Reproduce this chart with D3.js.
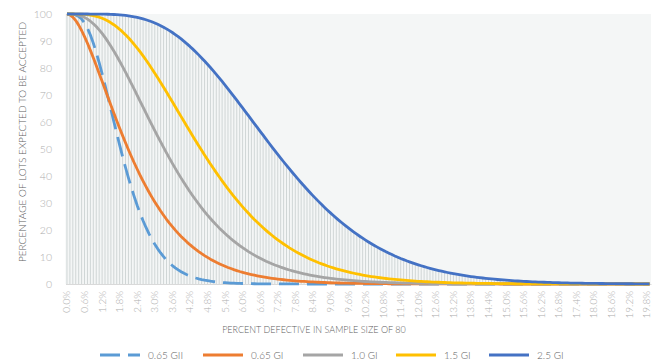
<!DOCTYPE html>
<html><head><meta charset="utf-8">
<script src="https://cdn.jsdelivr.net/npm/d3@7"></script>
<style>body{margin:0;background:#fff}svg{display:block;font-family:Lato,"Open Sans",sans-serif}text{font-weight:300}</style>
</head><body><svg id="c" width="657" height="363"></svg>
<script>
// Percent defective categories: 0.0% .. 19.9% in 0.1% steps
const defectPct = d3.range(200).map(i => i / 10);
const tickLabels = ["0.0%","0.6%","1.2%","1.8%","2.4%","3.0%","3.6%","4.2%","4.8%","5.4%","6.0%","6.6%","7.2%","7.8%","8.4%","9.0%","9.6%","10.2%","10.8%","11.4%","12.0%","12.6%","13.2%","13.8%","14.4%","15.0%","15.6%","16.2%","16.8%","17.4%","18.0%","18.6%","19.2%","19.8%"];
const seriesNames = ["0.65 GII","0.65 GI","1.0 GI","1.5 GI","2.5 GI"];

const gii065 = [100,99.99,99.92,99.67,99.11,98.13,96.67,94.69,92.20,89.22,
85.80,82.02,77.95,73.66,69.23,64.72,60.22,55.76,51.41,47.19,
43.15,39.31,35.67,32.27,29.09,26.15,23.43,20.94,18.66,16.59,
14.71,13.02,11.49,10.13,8.90,7.81,6.84,5.98,5.22,4.55,
3.95,3.43,2.98,2.58,2.23,1.92,1.66,1.43,1.23,1.05,
0.90,0.78,0.66,0.57,0.48,0.41,0.35,0.30,0.26,0.22,
0.18,0.16,0.13,0.11,0.09,0.08,0.07,0.06,0.05,0.04,
0.03,0.03,0.02,0.02,0.02,0.01,0.01,0.01,0.01,0.01,
0.01,0,0,0,0,0,0,0,0,0,
0,0,0,0,0,0,0,0,0,0,
0,0,0,0,0,0,0,0,0,0,
0,0,0,0,0,0,0,0,0,0,
0,0,0,0,0,0,0,0,0,0,
0,0,0,0,0,0,0,0,0,0,
0,0,0,0,0,0,0,0,0,0,
0,0,0,0,0,0,0,0,0,0,
0,0,0,0,0,0,0,0,0,0,
0,0,0,0,0,0,0,0,0,0,
0,0,0,0,0,0,0,0,0,0,
0,0,0,0,0,0,0,0,0,0];

const gi065 = [100,99.70,98.86,97.56,95.88,93.89,91.63,89.16,86.53,83.77,
80.92,78.00,75.06,72.10,69.14,66.21,63.31,60.47,57.67,54.95,
52.30,49.72,47.23,44.82,42.50,40.26,38.11,36.05,34.07,32.18,
30.38,28.66,27.02,25.46,23.97,22.56,21.23,19.96,18.75,17.62,
16.54,15.52,14.56,13.65,12.80,11.99,11.23,10.51,9.84,9.20,
8.61,8.04,7.52,7.02,6.56,6.12,5.72,5.33,4.98,4.64,
4.33,4.03,3.76,3.50,3.26,3.03,2.82,2.63,2.44,2.27,
2.11,1.97,1.83,1.70,1.58,1.46,1.36,1.26,1.17,1.09,
1.01,0.94,0.87,0.80,0.75,0.69,0.64,0.59,0.55,0.51,
0.47,0.44,0.40,0.37,0.35,0.32,0.30,0.27,0.25,0.23,
0.22,0.20,0.18,0.17,0.16,0.15,0.13,0.12,0.11,0.11,
0.10,0.09,0.08,0.08,0.07,0.06,0.06,0.06,0.05,0.05,
0.04,0.04,0.04,0.03,0.03,0.03,0.03,0.02,0.02,0.02,
0.02,0.02,0.02,0.01,0.01,0.01,0.01,0.01,0.01,0.01,
0.01,0.01,0.01,0.01,0.01,0.01,0.01,0.01,0,0,
0,0,0,0,0,0,0,0,0,0,
0,0,0,0,0,0,0,0,0,0,
0,0,0,0,0,0,0,0,0,0,
0,0,0,0,0,0,0,0,0,0,
0,0,0,0,0,0,0,0,0,0];

const gi10 = [100,99.99,99.94,99.81,99.58,99.23,98.74,98.11,97.33,96.41,
95.35,94.14,92.80,91.34,89.76,88.08,86.30,84.44,82.50,80.50,
78.44,76.34,74.20,72.04,69.86,67.67,65.48,63.29,61.11,58.95,
56.81,54.70,52.62,50.58,48.57,46.61,44.69,42.81,40.98,39.21,
37.48,35.80,34.18,32.61,31.09,29.62,28.21,26.85,25.53,24.27,
23.06,21.90,20.78,19.72,18.69,17.71,16.78,15.89,15.03,14.22,
13.44,12.71,12.00,11.33,10.70,10.09,9.52,8.98,8.46,7.97,
7.50,7.06,6.65,6.25,5.88,5.53,5.19,4.88,4.58,4.30,
4.04,3.79,3.55,3.33,3.12,2.93,2.74,2.57,2.40,2.25,
2.11,1.97,1.84,1.72,1.61,1.50,1.41,1.31,1.23,1.14,
1.07,1.00,0.93,0.87,0.81,0.75,0.70,0.65,0.61,0.57,
0.53,0.49,0.46,0.43,0.40,0.37,0.34,0.32,0.30,0.28,
0.26,0.24,0.22,0.20,0.19,0.18,0.16,0.15,0.14,0.13,
0.12,0.11,0.10,0.10,0.09,0.08,0.08,0.07,0.07,0.06,
0.06,0.05,0.05,0.04,0.04,0.04,0.04,0.03,0.03,0.03,
0.03,0.02,0.02,0.02,0.02,0.02,0.02,0.01,0.01,0.01,
0.01,0.01,0.01,0.01,0.01,0.01,0.01,0.01,0.01,0.01,
0.01,0.01,0.01,0,0,0,0,0,0,0,
0,0,0,0,0,0,0,0,0,0,
0,0,0,0,0,0,0,0,0,0];

const gi15 = [100,100,100,99.99,99.97,99.93,99.86,99.75,99.60,99.40,
99.13,98.81,98.41,97.93,97.38,96.74,96.02,95.22,94.33,93.37,
92.32,91.19,89.98,88.70,87.36,85.94,84.47,82.94,81.36,79.74,
78.07,76.36,74.63,72.86,71.08,69.28,67.47,65.64,63.81,61.99,
60.16,58.35,56.54,54.76,52.98,51.23,49.50,47.79,46.11,44.47,
42.84,41.26,39.70,38.18,36.70,35.25,33.84,32.47,31.13,29.84,
28.58,27.36,26.18,25.03,23.92,22.86,21.82,20.83,19.87,18.94,
18.05,17.19,16.37,15.58,14.82,14.09,13.39,12.73,12.09,11.47,
10.89,10.33,9.79,9.28,8.79,8.33,7.88,7.46,7.06,6.67,
6.31,5.96,5.63,5.32,5.02,4.74,4.47,4.22,3.98,3.75,
3.53,3.33,3.13,2.95,2.77,2.61,2.45,2.31,2.17,2.04,
1.92,1.80,1.69,1.59,1.49,1.40,1.31,1.23,1.15,1.08,
1.01,0.95,0.89,0.83,0.78,0.73,0.68,0.64,0.59,0.56,
0.52,0.48,0.45,0.42,0.39,0.37,0.34,0.32,0.30,0.28,
0.26,0.24,0.23,0.21,0.20,0.18,0.17,0.16,0.15,0.14,
0.13,0.12,0.11,0.10,0.10,0.09,0.08,0.08,0.07,0.07,
0.06,0.06,0.05,0.05,0.05,0.04,0.04,0.04,0.03,0.03,
0.03,0.03,0.02,0.02,0.02,0.02,0.02,0.02,0.02,0.01,
0.01,0.01,0.01,0.01,0.01,0.01,0.01,0.01,0.01,0.01,
0.01,0.01,0.01,0,0,0,0,0,0,0];

const gi25 = [100,100,100,100,100,100,100,100,99.99,99.99,
99.98,99.97,99.96,99.94,99.91,99.87,99.82,99.75,99.67,99.57,
99.46,99.31,99.15,98.96,98.73,98.48,98.19,97.87,97.51,97.11,
96.67,96.19,95.67,95.10,94.49,93.83,93.15,92.39,91.59,90.76,
89.88,88.96,88.00,86.99,85.95,84.86,83.74,82.59,81.39,80.18,
78.92,77.64,76.34,75.01,73.66,72.29,70.90,69.50,68.08,66.65,
65.22,63.77,62.33,60.88,59.43,57.98,56.53,55.11,53.66,52.23,
50.82,49.41,48.02,46.65,45.28,43.94,42.61,41.30,40.02,38.75,
37.50,36.28,35.08,33.90,32.74,31.61,30.51,29.43,28.37,27.35,
26.34,25.36,24.41,23.48,22.58,21.70,20.85,20.02,19.22,18.45,
17.69,16.96,16.26,15.57,14.91,14.28,13.66,13.07,12.50,11.94,
11.41,10.90,10.40,9.93,9.47,9.04,8.61,8.21,7.82,7.45,
7.09,6.75,6.42,6.11,5.81,5.52,5.24,4.98,4.73,4.49,
4.26,4.04,3.83,3.63,3.44,3.26,3.09,2.93,2.77,2.62,
2.48,2.35,2.22,2.10,1.98,1.87,1.77,1.67,1.58,1.49,
1.40,1.32,1.25,1.18,1.11,1.04,0.98,0.93,0.87,0.82,
0.77,0.73,0.68,0.64,0.60,0.57,0.53,0.50,0.47,0.44,
0.41,0.39,0.36,0.34,0.32,0.30,0.28,0.26,0.25,0.23,
0.22,0.20,0.19,0.18,0.17,0.15,0.14,0.14,0.13,0.12,
0.11,0.10,0.10,0.09,0.08,0.08,0.07,0.07,0.06,0.06];

const seriesValues = [gii065, gi065, gi10, gi15, gi25];
const seriesColors = ["#5B9BD5","#ED7D31","#A5A5A5","#FFC000","#4472C4"];
const seriesDash = ["20,8", null, null, null, null];

const svg = d3.select("#c");
const P = {l: 65.5, r: 651, t: 14, b: 284};

const x = d3.scaleBand().domain(d3.range(defectPct.length)).range([P.l, P.r]).padding(0);
const cx = i => x(i) + x.bandwidth() / 2;
const y = d3.scaleLinear().domain([0, 100]).range([P.b, P.t]);

svg.append("rect").attr("x", 0).attr("y", 0).attr("width", 657).attr("height", 363).attr("fill", "#fff");
svg.append("rect").attr("x", P.l).attr("y", P.t).attr("width", P.r - P.l).attr("height", P.b - P.t).attr("fill", "#f4f6f6");

// drop lines (from axis to highest series at each category)
const maxAt = defectPct.map((_, i) => d3.max(seriesValues, s => s[i]));
svg.append("g").selectAll("line").data(maxAt).join("line")
  .attr("x1", (d, i) => cx(i)).attr("x2", (d, i) => cx(i))
  .attr("y1", y(0)).attr("y2", d => y(d))
  .attr("stroke", "#d0d6d6").attr("stroke-width", 1);

// x axis
const xAxis = d3.axisBottom(x)
  .tickValues(d3.range(0, defectPct.length, 6))
  .tickFormat(i => tickLabels[i / 6])
  .tickSize(0);
const gx = svg.append("g").attr("transform", `translate(0,${P.b})`).call(xAxis);
gx.select(".domain").attr("stroke", "#d9d9d9").attr("stroke-width", 1);
gx.selectAll("text")
  .attr("transform", "rotate(-90)")
  .attr("x", -7).attr("y", 0).attr("dy", "0.35em")
  .style("text-anchor", "end")
  .attr("fill", "#adadad").style("font-size", "10px").style("font-family", "Lato").style("font-weight", 300);

// y axis
const yAxis = d3.axisLeft(y).tickValues(d3.range(0, 101, 10)).tickSize(0).tickPadding(13.5);
const gy = svg.append("g").attr("transform", `translate(${P.l},0)`).call(yAxis);
gy.select(".domain").remove();
gy.selectAll("text").attr("fill", "#adadad").style("font-size", "10.5px").style("font-family", "Lato").style("font-weight", 300);

// series lines
const line = d3.line().x((d, i) => cx(i)).y(d => y(d));
seriesValues.forEach((s, k) => {
  svg.append("path").datum(s)
    .attr("d", line)
    .attr("fill", "none")
    .attr("stroke", seriesColors[k])
    .attr("stroke-width", 2.8)
    .attr("stroke-linejoin", "round")
    .attr("stroke-dasharray", seriesDash[k]);
});

// axis titles
svg.append("text")
  .attr("transform", "translate(22,142) rotate(-90)")
  .attr("text-anchor", "middle").attr("dy", "0.35em")
  .attr("fill", "#606060").style("font-size", "10px").style("font-family", "Lato")
  .text("PERCENTAGE OF LOTS EXPECTED TO BE ACCEPTED");
svg.append("text")
  .attr("x", 314).attr("y", 330).attr("dy", "0.35em")
  .attr("text-anchor", "middle")
  .attr("fill", "#606060").style("font-size", "9px").style("font-family", "Lato")
  .text("PERCENT DEFECTIVE IN SAMPLE SIZE OF 80");

// legend
const legX = [100, 203, 303, 396, 489];
const lg = svg.append("g").attr("transform", "translate(0,355)");
seriesNames.forEach((n, k) => {
  lg.append("line").attr("x1", legX[k]).attr("x2", legX[k] + 40).attr("y1", 0).attr("y2", 0)
    .attr("stroke", seriesColors[k]).attr("stroke-width", 2.8)
    .attr("stroke-dasharray", seriesDash[k]);
  lg.append("text").attr("x", legX[k] + 48).attr("y", 0).attr("dy", "0.35em")
    .attr("fill", "#606060").style("font-size", "10px").style("font-family", "Lato")
    .text(n);
});
</script></body></html>
